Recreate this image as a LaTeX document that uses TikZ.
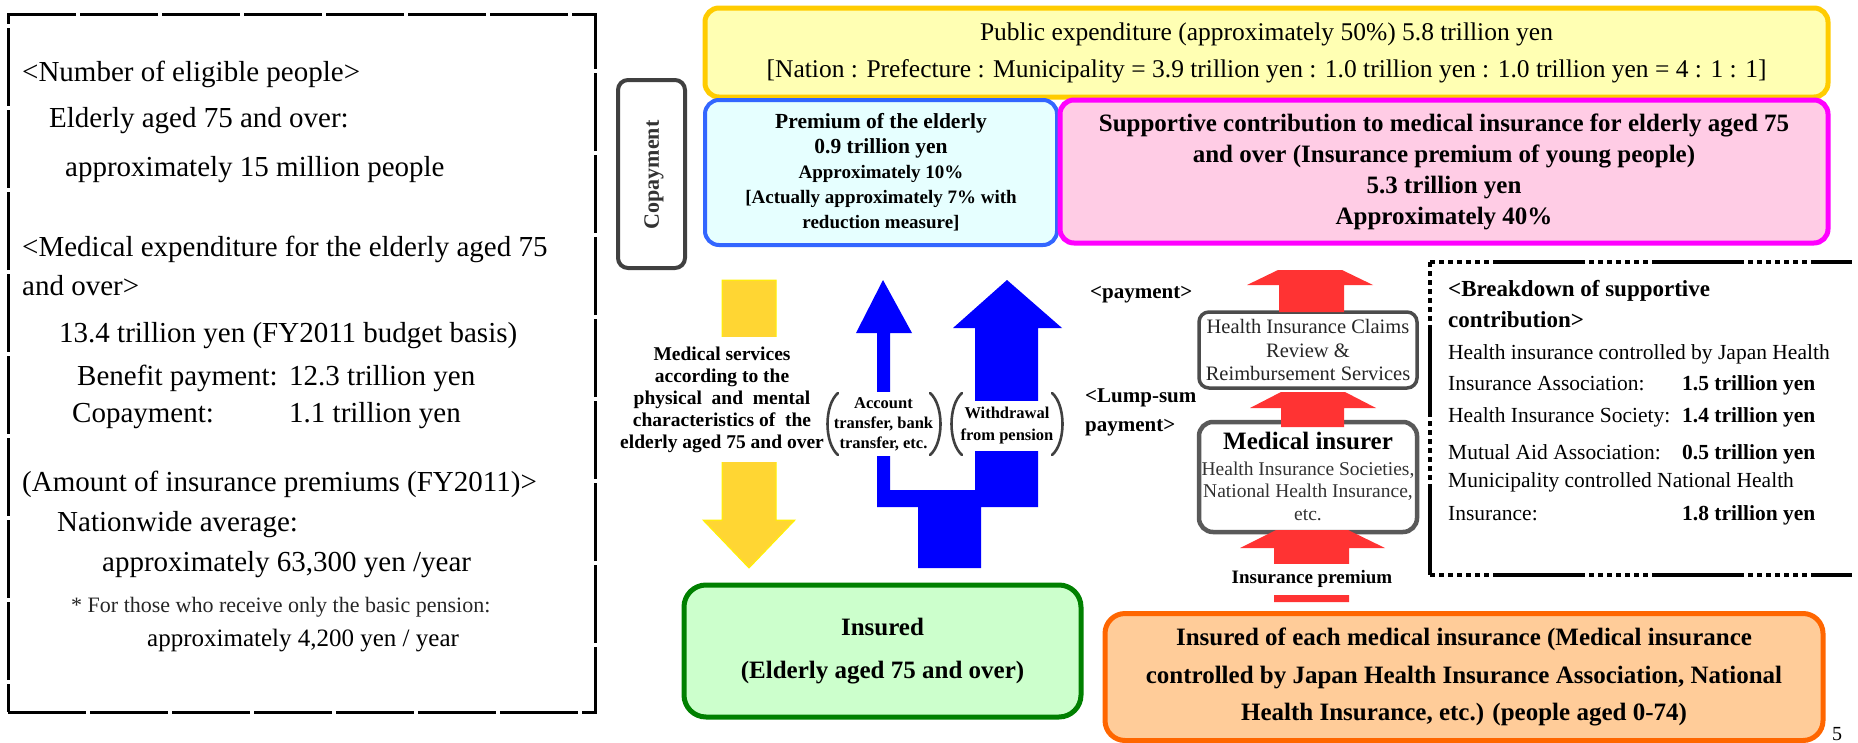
\documentclass[tikz,border=0pt]{standalone}
\usepackage{fontspec}
\setmainfont{Liberation Serif}
\definecolor{ybox}{RGB}{255,255,179}
\definecolor{yedge}{RGB}{255,204,0}
\definecolor{bbox}{RGB}{230,255,255}
\definecolor{bedge}{RGB}{51,102,255}
\definecolor{pbox}{RGB}{255,204,229}
\definecolor{pedge}{RGB}{255,0,255}
\definecolor{gbox}{RGB}{204,255,204}
\definecolor{gedge}{RGB}{0,128,0}
\definecolor{obox}{RGB}{255,204,153}
\definecolor{oedge}{RGB}{255,102,0}
\definecolor{yarrow}{RGB}{255,214,51}
\definecolor{rarrow}{RGB}{255,51,51}
\newcommand{\fsz}[2]{\fontsize{#1}{#2}\selectfont}
\begin{document}
\begin{tikzpicture}[x=1pt,y=-1pt,
  every node/.style={inner sep=0pt},
  lt/.style={anchor=base west,font=\fsz{29}{35}},
  bt/.style={anchor=base west,font=\fsz{21.5}{25}},
  bv/.style={anchor=base west,font=\bfseries\fsz{21.5}{25}},
  lbl/.style={anchor=west,font=\bfseries\fsz{21}{24}},
  paren/.style={draw=black!75,line width=2.6pt,line cap=round},
  bdash/.style={line width=4pt,dash pattern=on 5pt off 4pt on 5pt off 4pt on 5pt off 4pt on 5pt off 4pt on 5pt off 4pt on 5pt off 4pt on 5pt off 4pt on 92pt off 4pt},
  roundbox/.style={rounded corners=14pt,align=center},
]
\useasboundingbox (0,0) rectangle (1858,742);
\fill[white] (0,0) rectangle (1858,742);

% ---------- left panel ----------
\node[draw,line width=3pt,dash pattern=on 78pt off 4pt,minimum width=587,minimum height=698] (leftbox) at (301.5,363) {};
\node[lt] (l1) at (22,81) {<Number of eligible people>};
\node[lt] (l2) at (49,127) {Elderly aged 75 and over:};
\node[lt] (l3) at (65,176) {approximately 15 million people};
\node[lt] (l4) at (22,256) {<Medical expenditure for the elderly aged 75};
\node[lt] (l5) at (22,295) {and over>};
\node[lt] (l6) at (59,342) {13.4 trillion yen (FY2011 budget basis)};
\node[lt] (l7) at (77,385) {Benefit payment:};
\node[lt] (l7b) at (289,385) {12.3 trillion yen};
\node[lt] (l8) at (72,422) {Copayment:};
\node[lt] (l8b) at (289,422) {1.1 trillion yen};
\node[lt] (l9) at (22,491) {(Amount of insurance premiums (FY2011)>};
\node[lt] (l10) at (57,531) {Nationwide average:};
\node[lt] (l11) at (102,571) {approximately 63,300 yen /year};
\node[lt,font=\fsz{22}{26},text=black!85] (l12) at (71,612) {* For those who receive only the basic pension:};
\node[lt,font=\fsz{25}{30}] (l13) at (147,646) {approximately 4,200 yen / year};

% ---------- copayment ----------
\node[draw=black!75,line width=4pt,rounded corners=10pt,minimum width=67,minimum height=188] (copay) at (651.5,174) {};
\node[rotate=90,font=\bfseries\fsz{22}{26},text=black!80] (copaytxt) at (654,175) {Copayment};

% ---------- top boxes ----------
\node[draw=yedge,fill=ybox,line width=5pt,roundbox,minimum width=1123,minimum height=89,font=\fsz{25.5}{37}] (pub) at (1266.5,52.5)
  {Public expenditure (approximately 50\%) 5.8 trillion yen\\{[}Nation : Prefecture : Municipality = 3.9 trillion yen : 1.0 trillion yen : 1.0 trillion yen = 4 : 1 : 1{]}};
\node[draw=bedge,fill=bbox,line width=4pt,roundbox,minimum width=352,minimum height=145,font=\bfseries\fsz{19}{25}] (prem) at (881,172.5)
  {{\fsz{21.5}{25}Premium of the elderly}\\{\fsz{21.5}{25}0.9 trillion yen}\\Approximately 10\%\\{[}Actually approximately 7\% with\\reduction measure{]}};
\node[draw=pedge,fill=pbox,line width=5pt,roundbox,minimum width=768,minimum height=143,font=\bfseries\fsz{25}{31}] (supp) at (1444,171.5)
  {Supportive contribution to medical insurance for elderly aged 75\\and over (Insurance premium of young people)\\5.3 trillion yen\\Approximately 40\%};

% ---------- yellow arrow ----------
\fill[yarrow,draw=yellow,line width=1pt] (722,280) -- (776,280) -- (776,520) -- (795,520) -- (749,568) -- (703,520) -- (722,520) -- cycle;
\node[fill=white,align=center,font=\bfseries\fsz{19.5}{22},minimum width=205,minimum height=125] (medsvc) at (722,399.5)
  {Medical services\\according to the\\physical \ and \ mental\\characteristics of \ the\\elderly aged 75 and over};

% ---------- blue arrows ----------
\fill[blue] (883,280) -- (912,333) -- (890,333) -- (890,490) -- (975,490) -- (975,328) -- (953,328) -- (1007,280) -- (1062,328) -- (1038,328) -- (1038,507) -- (981,507) -- (981,568) -- (918,568) -- (918,507) -- (877,507) -- (877,333) -- (856,333) -- cycle;
\node[fill=white,align=center,font=\bfseries\fsz{16.5}{20},minimum width=113,minimum height=64] (acct) at (883.5,424)
  {Account\\transfer, bank\\transfer, etc.};
\node[fill=white,align=center,font=\bfseries\fsz{16.5}{22},minimum width=100,minimum height=50] (wdr) at (1007,426)
  {Withdrawal\\from pension};
\draw[paren] (838,393) .. controls (824,405) and (824,443) .. (838,455);
\draw[paren] (930,393) .. controls (944,405) and (944,443) .. (930,455);
\draw[paren] (962,393) .. controls (948,405) and (948,443) .. (962,455);
\draw[paren] (1052,393) .. controls (1066,405) and (1066,443) .. (1052,455);

% ---------- payment labels ----------
\node[lbl] (pay) at (1090,295) {<payment>};
\node[lbl] (lump) at (1085,398) {<Lump-sum};
\node[lbl] (lump2) at (1085,428) {payment>};

% ---------- insurer column ----------
\node[draw=black!70,fill=white,line width=3.5pt,rounded corners=10pt,minimum width=218,minimum height=76,align=center,font=\fsz{20.5}{23.5},text=black!85] (hic) at (1308,350)
  {Health Insurance Claims\\Review \&\\Reimbursement Services};
\node[draw=black!65,fill=white,line width=4.5pt,rounded corners=14pt,minimum width=218,minimum height=110] (mi) at (1308,477) {};
\node[font=\bfseries\fsz{25}{28}] (mititle) at (1308,441) {Medical insurer};
\node[align=center,font=\fsz{19.5}{22.5},text=black!80] (mitext) at (1308,491) {Health Insurance Societies,\\National Health Insurance,\\etc.};

\fill[rarrow] (1279,312) -- (1279,285) -- (1247,285) -- (1278,270) -- (1342,270) -- (1373,285) -- (1344,285) -- (1344,312) -- cycle;
\fill[rarrow] (1281,427) -- (1281,408) -- (1250,408) -- (1281,392) -- (1345,392) -- (1376,408) -- (1344,408) -- (1344,427) -- cycle;
\fill[rarrow] (1274,602) -- (1274,548) -- (1240,548) -- (1276,530) -- (1348,530) -- (1385,548) -- (1349,548) -- (1349,602) -- cycle;
\node[fill=white,font=\bfseries\fsz{19}{22},minimum height=31,inner xsep=3pt] (iprem) at (1312,579) {Insurance premium};

% ---------- breakdown ----------
\draw[bdash] (1430,262) -- (1852,262);
\draw[bdash] (1430,262) -- (1430,575);
\draw[bdash] (1430,575) -- (1852,575);
\node[anchor=base west,font=\bfseries\fsz{23}{27}] (hdr1) at (1448,296) {<Breakdown of supportive};
\node[anchor=base west,font=\bfseries\fsz{23}{27}] (hdr2) at (1448,327) {contribution>};
\node[bt] (r1) at (1448,359) {Health insurance controlled by Japan Health};
\node[bt] (r2) at (1448,390) {Insurance Association:};
\node[bv] (v2) at (1682,390) {1.5 trillion yen};
\node[bt] (r3) at (1448,422) {Health Insurance Society:};
\node[bv] (v3) at (1682,422) {1.4 trillion yen};
\node[bt] (r4) at (1448,459) {Mutual Aid Association:};
\node[bv] (v4) at (1682,459) {0.5 trillion yen};
\node[bt] (r5) at (1448,487) {Municipality controlled National Health};
\node[bt] (r6) at (1448,520) {Insurance:};
\node[bv] (v6) at (1682,520) {1.8 trillion yen};

% ---------- bottom boxes ----------
\node[draw=gedge,fill=gbox,line width=5pt,rounded corners=22pt,align=center,minimum width=397,minimum height=132,font=\bfseries\fsz{25}{43}] (ins) at (882.5,651)
  {Insured\\(Elderly aged 75 and over)};
\node[draw=oedge,fill=obox,line width=5pt,rounded corners=20pt,align=center,minimum width=718,minimum height=127,font=\bfseries\fsz{25}{37.5}] (each) at (1464,677)
  {Insured of each medical insurance (Medical insurance\\controlled by Japan Health Insurance Association, National\\Health Insurance, etc.) (people aged 0-74)};
\node[anchor=base west,font=\fsz{20}{24}] (pg) at (1832,740) {5};
\end{tikzpicture}
\end{document}
